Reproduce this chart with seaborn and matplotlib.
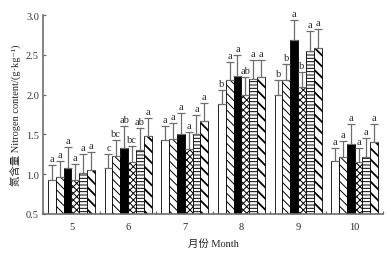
import numpy as np
import pandas as pd
import seaborn as sns
import matplotlib
matplotlib.use("Agg")
import matplotlib.pyplot as plt

# data
months = ["5", "6", "7", "8", "9", "10"]
treatments = ["T1", "T2", "T3", "T4", "T5", "T6"]

# mean nitrogen content per treatment, one list per month
m5 = [0.93, 0.96, 1.08, 0.93, 1.01, 1.05]
m6 = [1.08, 1.23, 1.33, 1.15, 1.31, 1.48]
m7 = [1.43, 1.44, 1.50, 1.32, 1.50, 1.67]
m8 = [1.88, 2.18, 2.23, 1.99, 2.20, 2.22]
m9 = [2.00, 2.18, 2.69, 2.09, 2.55, 2.59]
m10 = [1.16, 1.21, 1.38, 1.15, 1.22, 1.40]

# top of the error bar
e5 = [1.12, 1.17, 1.34, 1.13, 1.25, 1.28]
e6 = [1.25, 1.43, 1.61, 1.35, 1.58, 1.71]
e7 = [1.60, 1.64, 1.77, 1.53, 1.75, 1.90]
e8 = [2.06, 2.41, 2.50, 2.22, 2.44, 2.44]
e9 = [2.19, 2.39, 2.94, 2.29, 2.80, 2.82]
e10 = [1.33, 1.42, 1.63, 1.33, 1.45, 1.63]

# significance letters
l5 = ["a", "a", "a", "a", "a", "a"]
l6 = ["c", "bc", "ab", "bc", "ab", "a"]
l7 = ["a", "a", "a", "a", "a", "a"]
l8 = ["b", "a", "a", "ab", "a", "a"]
l9 = ["b", "b", "a", "b", "a", "a"]
l10 = ["a", "a", "a", "a", "a", "a"]

means = [m5, m6, m7, m8, m9, m10]
tops = [e5, e6, e7, e8, e9, e10]
letters = [l5, l6, l7, l8, l9, l10]

rows = []
for i, mo in enumerate(months):
    for j, t in enumerate(treatments):
        rows.append({"month": mo, "trt": t, "val": means[i][j],
                     "top": tops[i][j], "lab": letters[i][j]})
df = pd.DataFrame(rows)

sns.set_style("ticks")
plt.rcParams["font.family"] = ["Liberation Serif", "Noto Sans CJK SC",
                               "DejaVu Serif"]
plt.rcParams["hatch.linewidth"] = 0.7

fig = plt.figure(figsize=(3.92, 2.55), dpi=100)
ax = fig.add_axes([0.110, 0.157, 0.867, 0.780])

palette = ["white", "white", "black", "white", "white", "white"]
sns.barplot(data=df, x="month", y="val", hue="trt", order=months,
            hue_order=treatments, palette=palette, width=0.83, gap=0,
            errorbar=None, edgecolor="black", linewidth=0.6,
            legend=False, ax=ax)

hatches = ["", "\\\\\\\\", "", "xxxxx", "-----", "\\\\\\"]
grey = "#6e6e6e"
bar_groups = list(ax.containers)
for j, cont in enumerate(bar_groups):
    for i, bar in enumerate(cont):
        bar.set_hatch(hatches[j])
        if j == 5 and hasattr(bar, "set_hatch_linewidth"):
            bar.set_hatch_linewidth(1.3)
        xc = bar.get_x() + bar.get_width() / 2
        h = bar.get_height()
        top = tops[i][j]
        ax.errorbar(xc, h, yerr=[[0], [top - h]], fmt="none",
                    ecolor=grey, elinewidth=0.9, capsize=3.0, capthick=0.9,
                    zorder=1)
        ax.text(xc, top + 0.025, letters[i][j], ha="center", va="bottom",
                fontsize=7.5)

ax.set_ylim(0.5, 3.0)
ax.set_xlim(-0.5, 5.5)
ax.set_yticks(np.arange(0.5, 3.01, 0.5))
ax.set_yticklabels([f"{v:.1f}" for v in np.arange(0.5, 3.01, 0.5)])
ax.set_xticks(np.arange(-0.5, 5.6, 1.0), minor=True)
ax.tick_params(axis="x", which="major", length=0, labelsize=7.5, pad=6)
ax.tick_params(axis="x", which="minor", direction="in", length=2.5,
               color=grey, width=0.9)
ax.tick_params(axis="y", direction="in", length=2.5, color=grey,
               width=0.9, labelsize=7.5, labelcolor="#333333", pad=3)

for s in ["top", "right"]:
    ax.spines[s].set_visible(False)
for s in ["left", "bottom"]:
    ax.spines[s].set_color(grey)
    ax.spines[s].set_linewidth(1.2)

ax.set_xlabel("月份 Month", fontsize=7.5, labelpad=5)
ax.set_ylabel("氮含量 Nitrogen content/(g·kg⁻¹)", fontsize=7.5,
              labelpad=3)

fig.savefig("out.png", dpi=100)
